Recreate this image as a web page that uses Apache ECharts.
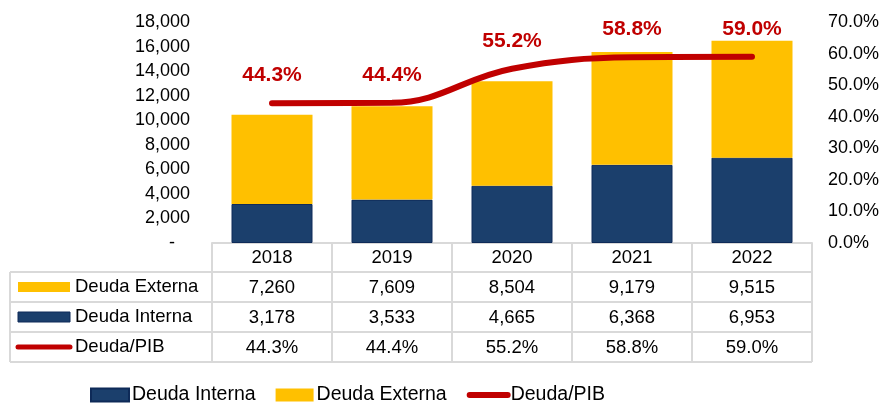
<!DOCTYPE html>
<html>
<head>
<meta charset="utf-8">
<script src="https://cdn.jsdelivr.net/npm/echarts@6/dist/echarts.min.js"></script>
<style>
	html, body { margin: 0; padding: 0; background: #fff; }
	#main { width: 883px; height: 406px; }
</style>
</head>
<body>
<div id="main"></div>
<script>
	"use strict";
	// DATA
	var years = ['2018', '2019', '2020', '2021', '2022'];
	var deudaExterna = [7260, 7609, 8504, 9179, 9515];
	var deudaInterna = [3178, 3533, 4665, 6368, 6953];
	var deudaPib = [44.3, 44.4, 55.2, 58.8, 59.0];
	var rowNames = ['Deuda Externa', 'Deuda Interna', 'Deuda/PIB'];

	var navy = '#1b3f6c';
	var yellow = '#ffc000';
	var red = '#c00000';
	var gridCol = '#d9d9d9';
	var font = '"Liberation Sans", Arial, sans-serif';

	function fmtNum(v) {
		return v.toString().replace(/\B(?=(\d{3})+(?!\d))/g, ',');
	}

	// grid geometry (pixels)
	var gLeft = 212, gRight = 812, gBottom = 243, rowH = 30, tableLeft = 10;
	var rowTops = [272, 302, 332, 362];

	var chart = echarts.init(document.getElementById('main'));

	// table: left labels, icons and horizontal rules
	var graphics = [];
	rowTops.forEach(function(y) {
		graphics.push({
			type: 'line',
			shape: { x1: tableLeft, y1: y, x2: gRight, y2: y },
			style: { stroke: gridCol, lineWidth: 2 }
		});
	});
	graphics.push({
		type: 'line',
		shape: { x1: tableLeft, y1: rowTops[0], x2: tableLeft, y2: rowTops[3] },
		style: { stroke: gridCol, lineWidth: 2 }
	});
	var iconColors = [yellow, navy, red];
	rowNames.forEach(function(name, i) {
		var cy = rowTops[i] + rowH / 2;
		if (i < 2) {
			graphics.push({
				type: 'rect',
				shape: { x: 18, y: cy - 5, width: 52, height: 10 },
				style: { fill: iconColors[i], stroke: i === 1 ? '#0e2a58' : null, lineWidth: 1 }
			});
		} else {
			graphics.push({
				type: 'line',
				shape: { x1: 18, y1: cy, x2: 70, y2: cy },
				style: { stroke: red, lineWidth: 5, lineCap: 'round' }
			});
		}
		graphics.push({
			type: 'text',
			x: 75,
			y: cy,
			style: {
				text: name,
				fill: '#000',
				font: '18.5px ' + font,
				textVerticalAlign: 'middle'
			}
		});
	});

	var option = {
		animation: false,
		grid: {
			left: gLeft,
			right: 883 - gRight,
			top: 22,
			bottom: 406 - gBottom
		},
		legend: {
			left: 85,
			top: 380,
			itemWidth: 38,
			itemHeight: 13,
			itemGap: 20,
			textStyle: { fontSize: 19.5, fontFamily: font, color: '#000', padding: [0, 0, 0, -2] },
			data: [
				{ name: 'Deuda Interna', icon: 'rect' },
				{ name: 'Deuda Externa', icon: 'rect' },
				{ name: 'Deuda/PIB', itemStyle: { opacity: 0 }, lineStyle: { width: 6, cap: 'round' } }
			]
		},
		xAxis: {
			type: 'category',
			data: years,
			axisLine: { lineStyle: { color: gridCol, width: 2 } },
			axisTick: { show: true, length: 119, lineStyle: { color: gridCol, width: 2 } },
			axisLabel: {
				interval: 0,
				margin: 0,
				formatter: function(value, idx) {
					return '{t|' + value + '}\n{t|' + fmtNum(deudaExterna[idx]) + '}\n{t|' +
						fmtNum(deudaInterna[idx]) + '}\n{t|' + deudaPib[idx].toFixed(1) + '%}';
				},
				rich: {
					t: { fontSize: 18.5, fontFamily: font, color: '#000', lineHeight: 30 }
				}
			}
		},
		yAxis: [{
			type: 'value',
			min: 0,
			max: 18000,
			interval: 2000,
			splitLine: { show: false },
			axisLine: { show: false },
			axisTick: { show: false },
			axisLabel: {
				margin: 22,
				fontSize: 18,
				fontFamily: font,
				color: '#000',
				formatter: function(v) { return v === 0 ? '-   ' : fmtNum(v); }
			}
		}, {
			type: 'value',
			min: 0,
			max: 70,
			interval: 10,
			splitLine: { show: false },
			axisLine: { show: false },
			axisTick: { show: false },
			axisLabel: {
				margin: 16,
				fontSize: 18,
				fontFamily: font,
				color: '#000',
				formatter: function(v) { return v.toFixed(1) + '%'; }
			}
		}],
		series: [{
			name: 'Deuda Interna',
			type: 'bar',
			stack: 'deuda',
			barWidth: 81,
			data: deudaInterna,
			itemStyle: { color: navy, borderColor: '#0e2a58', borderWidth: 1 }
		}, {
			name: 'Deuda Externa',
			type: 'bar',
			stack: 'deuda',
			barWidth: 81,
			data: deudaExterna,
			itemStyle: { color: yellow }
		}, {
			name: 'Deuda/PIB',
			type: 'line',
			yAxisIndex: 1,
			smooth: 0.4,
			symbol: 'circle',
			symbolSize: 1,
			data: deudaPib,
			lineStyle: { color: red, width: 6, cap: 'round' },
			itemStyle: { color: red },
			label: {
				show: true,
				position: 'top',
				distance: 17,
				fontSize: 21,
				fontWeight: 'bold',
				fontFamily: font,
				color: red,
				formatter: function(p) { return p.value.toFixed(1) + '%'; }
			}
		}],
		graphic: graphics
	};
	chart.setOption(option);
</script>
</body>
</html>
